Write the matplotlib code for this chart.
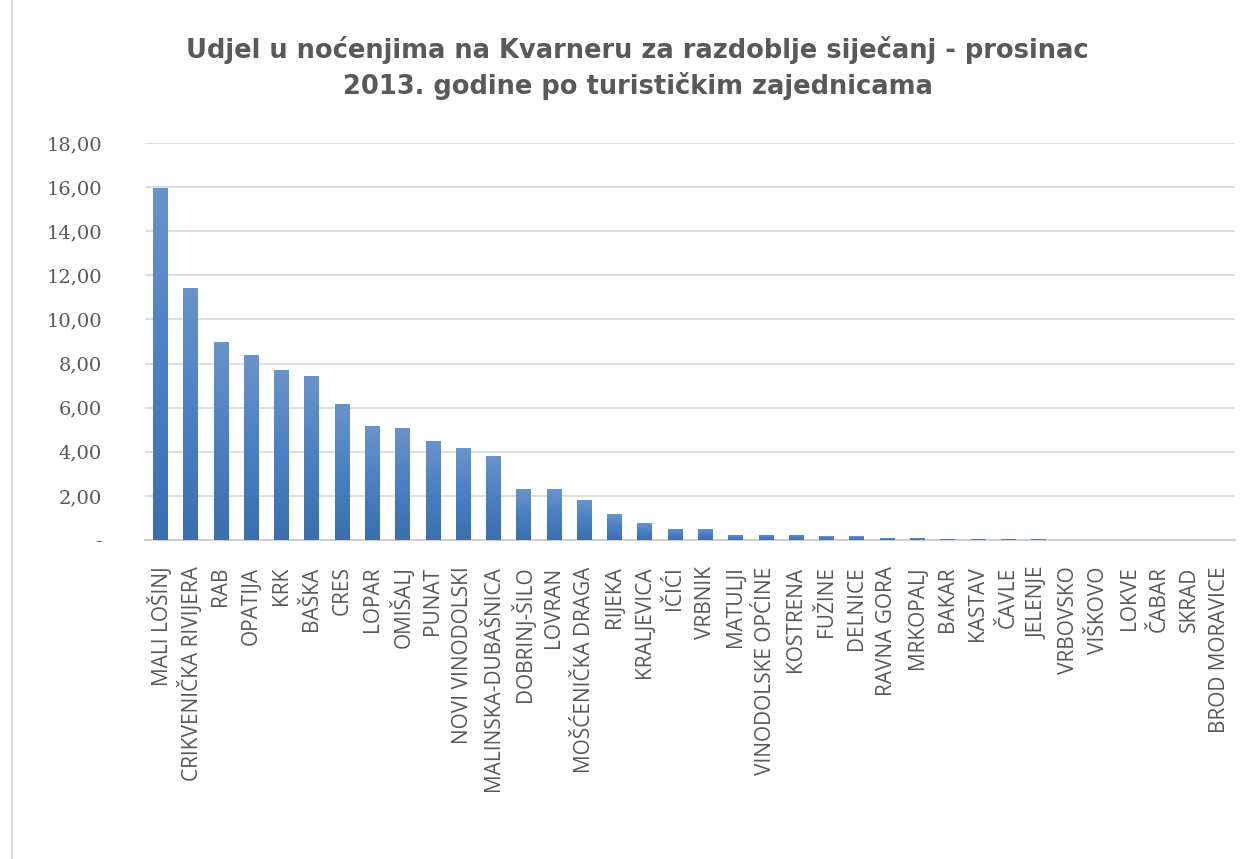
import numpy as np
import matplotlib
matplotlib.use("Agg")
import matplotlib.pyplot as plt
from matplotlib.colors import LinearSegmentedColormap

# udjel u nocenjima po turistickim zajednicama (%)
zajednice = ["MALI LOŠINJ", "CRIKVENIČKA RIVIJERA", "RAB", "OPATIJA", "KRK", "BAŠKA",
             "CRES", "LOPAR", "OMIŠALJ", "PUNAT", "NOVI VINODOLSKI", "MALINSKA-DUBAŠNICA",
             "DOBRINJ-ŠILO", "LOVRAN", "MOŠĆENIČKA DRAGA", "RIJEKA", "KRALJEVICA", "IČIĆI",
             "VRBNIK", "MATULJI", "VINODOLSKE OPĆINE", "KOSTRENA", "FUŽINE", "DELNICE",
             "RAVNA GORA", "MRKOPALJ", "BAKAR", "KASTAV", "ČAVLE", "JELENJE", "VRBOVSKO",
             "VIŠKOVO", "LOKVE", "ČABAR", "SKRAD", "BROD MORAVICE"]
udjel = [15.97, 11.44, 8.98, 8.38, 7.71, 7.44, 6.16, 5.16, 5.10, 4.50, 4.17, 3.83,
         2.29, 2.29, 1.82, 1.16, 0.77, 0.50, 0.50, 0.23, 0.23, 0.23, 0.17, 0.17,
         0.09, 0.09, 0.04, 0.04, 0.03, 0.03, 0.02, 0.02, 0.02, 0.01, 0.01, 0.01]
y_ticks = [0, 2, 4, 6, 8, 10, 12, 14, 16, 18]
y_labels = ["-", "2,00", "4,00", "6,00", "8,00", "10,00", "12,00", "14,00", "16,00", "18,00"]

GREY = "#595959"

fig = plt.figure(figsize=(12.45, 8.59), dpi=100)
ax = fig.add_axes([145 / 1245, 1 - 540 / 859, 1090 / 1245, 397 / 859])

x = np.arange(len(zajednice))
bars = ax.bar(x, udjel, width=0.47, color="#4a7ebf", zorder=3)

# gradient fill like the Excel bars
grad = LinearSegmentedColormap.from_list("g", ["#3b6fae", "#4a80c4", "#6a93ca"])
for b in bars:
    x0, y0 = b.get_x(), b.get_y()
    w, h = b.get_width(), b.get_height()
    if h <= 0:
        continue
    img = ax.imshow(np.linspace(0, 1, 64).reshape(-1, 1), cmap=grad, origin="lower",
                    extent=[x0, x0 + w, y0, y0 + h], aspect="auto", zorder=3)
    img.set_clip_path(b)
    b.set_facecolor("none")

ax.set_xlim(-0.5, len(zajednice) - 0.5)
ax.set_ylim(0, 18)
ax.set_yticks(y_ticks)
ax.set_yticklabels(y_labels, family="DejaVu Serif", fontsize=14, color=GREY)
ax.set_xticks(x)
ax.set_xticklabels(zajednice, rotation=90, family="Open Sans", fontsize=15, color=GREY)
ax.tick_params(axis="y", length=0, pad=31)
ax.tick_params(axis="x", length=0, pad=19)
ax.grid(axis="y", color="#d9d9d9", linewidth=1.2, zorder=0)
for s in ["top", "right", "left"]:
    ax.spines[s].set_visible(False)
ax.spines["bottom"].set_color("#d0d0d0")
ax.spines["bottom"].set_linewidth(1.5)

fig.text(0.512, 0.921, "Udjel u noćenjima na Kvarneru za razdoblje siječanj - prosinac\n"
         "2013. godine po turističkim zajednicama", ha="center", va="center",
         fontsize=18.5, fontweight="bold", color=GREY, linespacing=1.35)

# outer frame line on the left edge
fig.add_artist(plt.Line2D([12 / 1245, 12 / 1245], [0, 1], color="#d9d9d9", linewidth=1.5))

fig.savefig("out.png", dpi=100, facecolor="white")
